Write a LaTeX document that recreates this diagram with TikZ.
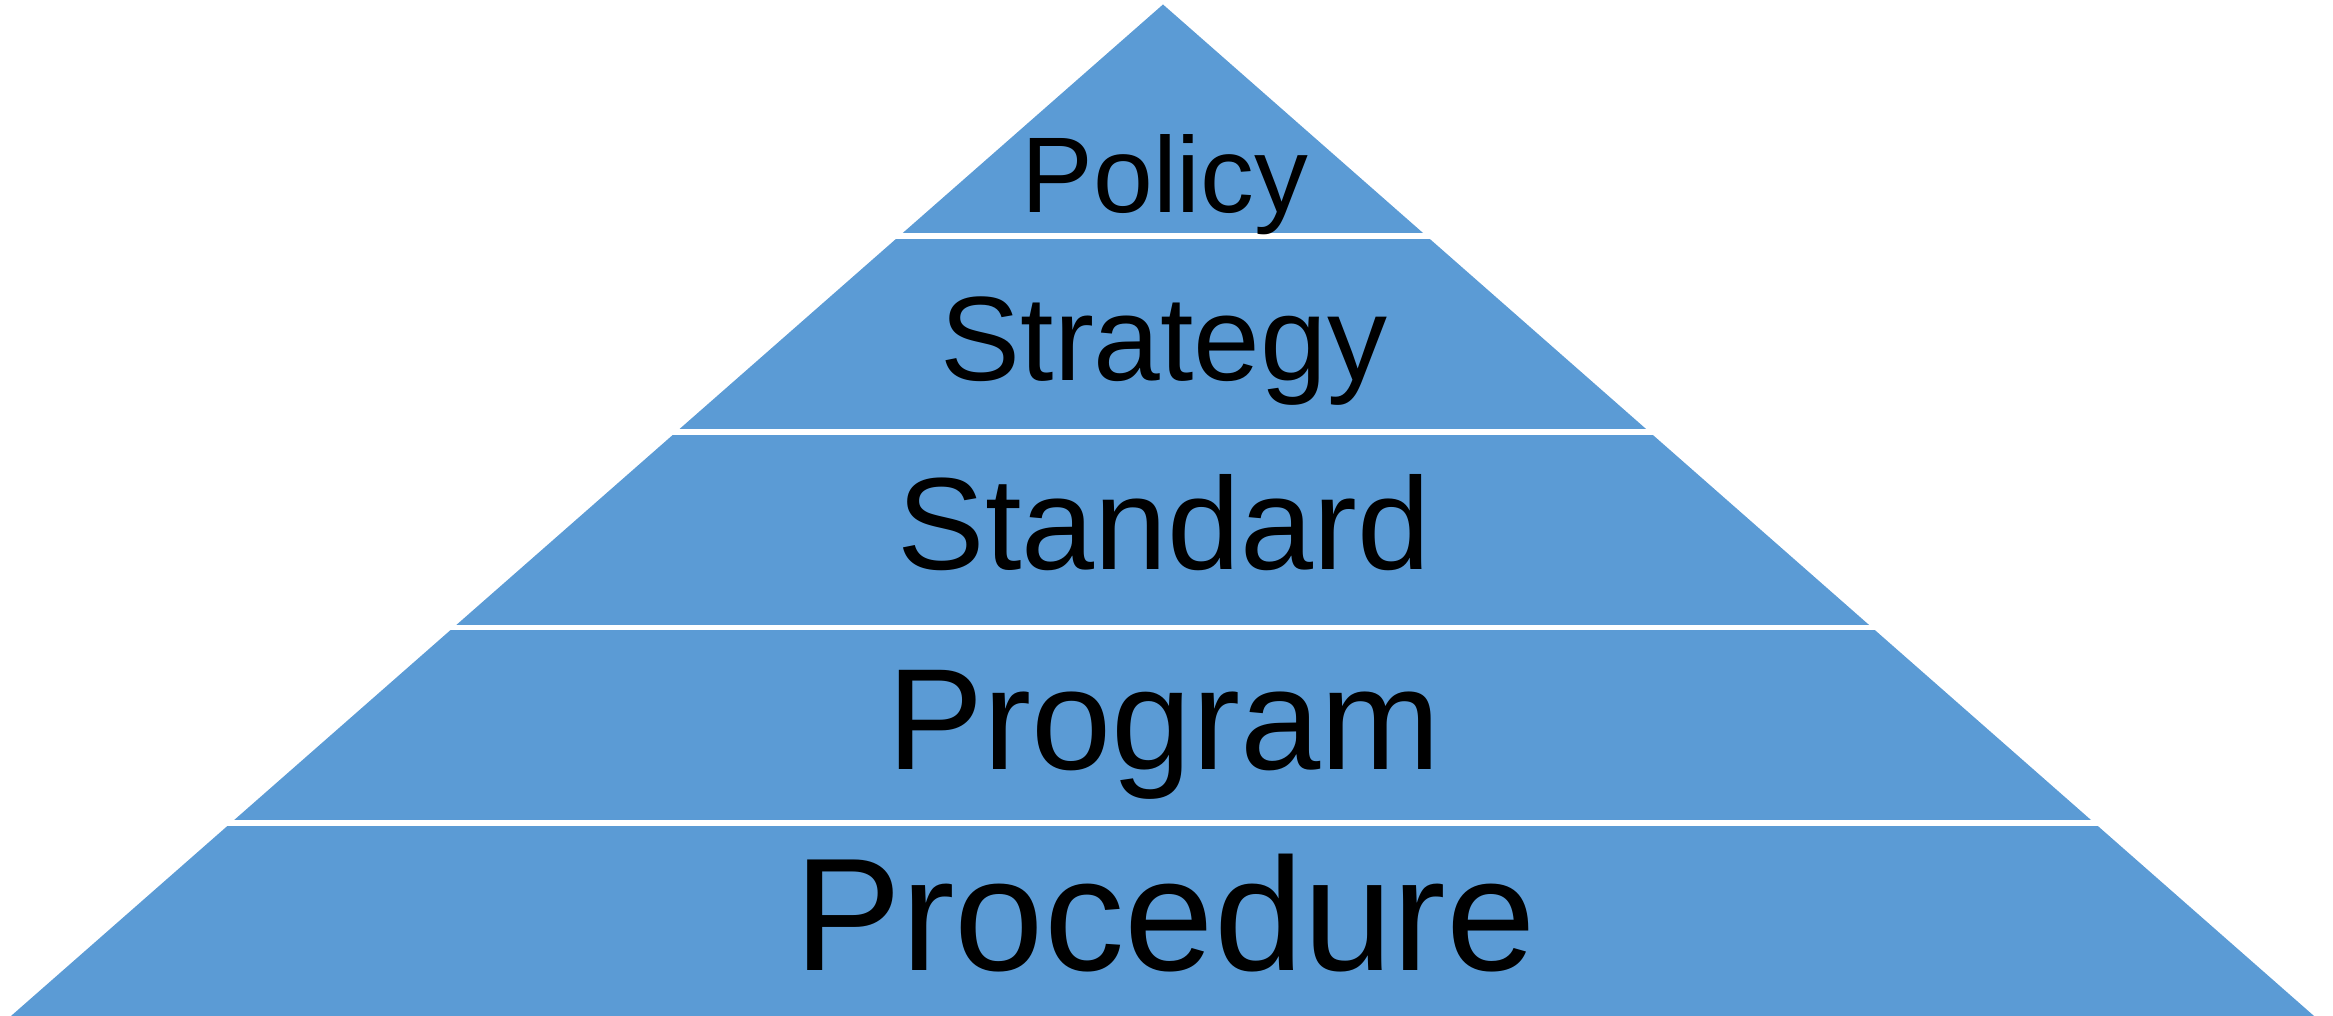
\documentclass[tikz,border=0pt]{standalone}
\usepackage{fontspec}
\setsansfont{Liberation Sans}
\usetikzlibrary{positioning}
\tikzset{every picture/.style={/utils/exec={\sffamily}}}
\definecolor{PyrBlue}{HTML}{5B9BD5}

\begin{document}
\begin{tikzpicture}[
		x=0.01cm, y=0.01cm,
		tier/.style={anchor=base, inner sep=0, font=\fontsize{#1}{#1}\selectfont},
		gap/.style={draw=white, line width=0.054cm}
	]
	\useasboundingbox (0,0) rectangle (2333,1016);
	% pyramid outline
	\coordinate (apex) at (1163,1011.5);
	\coordinate (baseL) at (11,0);
	\coordinate (baseR) at (2314,0);
	\fill[PyrBlue] (baseL) -- (apex) -- (baseR) -- cycle;
	% white cuts between the levels
	\foreach \y in {193,388.5,584,780}
		\draw[gap] (0,\y) -- (2333,\y);
	% level labels, bottom to top
	\node (procedure) [tier=45.7] at (1165,45) {Procedure};
	\node (program) [tier=41] at (1164,246) {Program};
	\node (standard) [tier=37.3] at (1164,446.7) {Standard};
	\node (strategy) [tier=34.1] at (1164,635.3) {Strategy};
	\node (policy) [tier=30.6] at (1165,803) {Policy};
\end{tikzpicture}
\end{document}
